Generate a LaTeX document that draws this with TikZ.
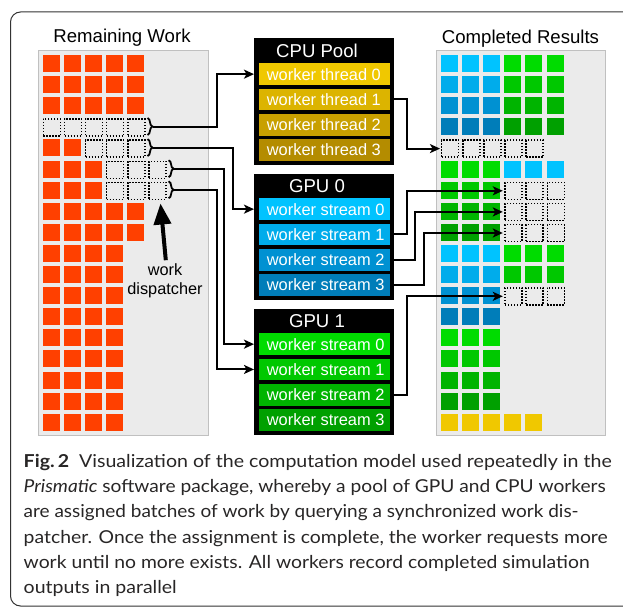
\documentclass[tikz,border=0pt]{standalone}
\usepackage{fontspec}
\usepackage{graphicx}
\setmainfont{Liberation Sans}
\newfontfamily\capfont{Lato}
\usetikzlibrary{arrows.meta,decorations.pathreplacing}
\definecolor{wred}{RGB}{255,64,0}
\definecolor{panelgray}{RGB}{235,235,235}
\definecolor{panelborder}{RGB}{192,192,192}
\definecolor{Y0}{RGB}{240,200,0}
\definecolor{Y1}{RGB}{220,180,0}
\definecolor{Y2}{RGB}{200,160,0}
\definecolor{Y3}{RGB}{180,140,0}
\definecolor{B0}{RGB}{0,195,255}
\definecolor{B1}{RGB}{0,172,235}
\definecolor{B2}{RGB}{0,145,210}
\definecolor{B3}{RGB}{0,125,185}
\definecolor{G0}{RGB}{0,220,0}
\definecolor{G1}{RGB}{0,200,0}
\definecolor{G2}{RGB}{0,180,0}
\definecolor{G3}{RGB}{0,160,0}
\definecolor{capcol}{RGB}{40,38,38}
\newcommand{\capfit}[2]{\resizebox{#1}{\height}{#2}}
\begin{document}
\begin{tikzpicture}[x=1pt,y=-1pt,
  panel/.style={fill=panelgray, draw=panelborder, line width=1pt},
  dotsq/.style={draw, dash pattern=on 1.4pt off 1.6pt, line width=1.4pt, minimum size=17pt, inner sep=0pt, anchor=north west},
  worker/.style={anchor=west, minimum width=131.7pt, minimum height=21.7pt, inner xsep=8.4pt, inner ysep=0pt, text=white, font=\fontsize{16.4}{18}\selectfont},
  poolbox/.style={fill=black, anchor=north west, minimum width=140pt, minimum height=126.7pt, inner sep=0pt},
  pooltitle/.style={text=white, inner sep=0pt, font=\fontsize{18.6}{20}\selectfont},
  paneltitle/.style={text=black, inner sep=0pt, font=\fontsize{18.6}{20}\selectfont},
  conn/.style={line width=2pt, -{Stealth[length=10pt,width=9pt,inset=2.5pt]}},
  brc/.style={decorate, decoration={brace, amplitude=5pt}, line width=1.8pt},
  capline/.style={anchor=base west, inner sep=0pt, text=capcol, font=\capfont\fontsize{17.8}{20}\selectfont},
]
\useasboundingbox (0,0) rectangle (623,607);
\clip (0,0) rectangle (623,607);
\fill[white] (0,0) rectangle (623,607);
% outer frame
\draw[line width=1pt, black!80, rounded corners=10pt] (10.5,12) rectangle (690,606);

% panels
\draw[panel] (38.3,50.5) rectangle (208.3,435);
\draw[panel] (436.7,50.5) rectangle (605.7,435);
\node[paneltitle] (ltitle) at (122,38) {Remaining Work};
\node[paneltitle] (rtitle) at (520.5,38.3) {Completed Results};

% left panel: remaining work
\foreach \r/\n in {0/4,1/4,2/4,4/1,5/2,6/2,7/4,8/4,9/3,10/3,11/3,12/3,13/3,14/3,15/3,16/3,17/3}
  \foreach \c in {0,...,\n}
    \fill[wred] ({42.7+21.1*\c},{55+21.1*\r}) rectangle ++(17,17);
\foreach \r/\a/\b in {3/0/4,4/2/4,5/3/5,6/3/5}
  \foreach \c in {\a,...,\b}
    \node[dotsq] (p\r\c) at ({42.7+21.1*\c},{55+21.1*\r}) {};

% braces
\draw[brc] (147.5,118) -- (147.5,135);
\draw[brc] (147.5,139.1) -- (147.5,156.1);
\draw[brc] (168.6,160.2) -- (168.6,177.2);
\draw[brc] (168.6,181.3) -- (168.6,198.3);
\coordinate (br3) at (152.8,126.5);
\coordinate (br4) at (152.8,147.6);
\coordinate (br5) at (173.9,168.7);
\coordinate (br6) at (173.9,189.8);

% dispatcher
\node[inner sep=1pt, align=center, font=\fontsize{16.3}{19}\selectfont] (disp) at (165,280.5) {work\\dispatcher};
\coordinate (disptip) at (160.5,203.5);
\draw[line width=4pt, -{Triangle[length=21pt,width=17pt]}] ([xshift=0.8pt,yshift=2pt]disp.north) -- (disptip);

% right panel: completed results
\foreach \r/\a/\b/\col in {0/0/2/B0,0/3/5/G0,1/0/2/B1,1/3/5/G1,2/0/2/B2,2/3/5/G2,3/0/2/B3,3/3/5/G3,
  5/0/2/G0,5/3/5/B0,6/0/2/G1,7/0/2/G2,8/0/2/G3,9/0/2/B0,9/3/5/G0,10/0/2/B1,10/3/5/G1,
  11/0/2/B2,12/0/2/B3,13/0/2/G0,14/0/2/G1,15/0/2/G2,16/0/2/G3,17/0/4/Y0}
  \foreach \c in {\a,...,\b}
    \fill[\col] ({441+21.1*\c},{55+21.1*\r}) rectangle ++(17,17);
\foreach \r/\a/\b in {4/0/4,6/3/5,7/3/5,8/3/5,11/3/5}
  \foreach \c in {\a,...,\b}
    \node[dotsq] (q\r\c) at ({441+21.1*\c},{55+21.1*\r}) {};

% CPU pool
\node[poolbox] (cpubox) at (254,38.3) {};
\node[pooltitle] (cputitle) at (317,50.8) {CPU Pool};
\foreach \i/\col in {0/Y0,1/Y1,2/Y2,3/Y3}
  \node[worker, fill=\col] (cpu\i) at (258.3,{74.15+25.3*\i}) {\makebox[114.9pt][l]{worker thread \i}};

% GPU 0
\node[poolbox] (gpuAbox) at (254,173.3) {};
\node[pooltitle] (gpuAtitle) at (317,185.8) {GPU 0};
\foreach \i/\col in {0/B0,1/B1,2/B2,3/B3}
  \node[worker, fill=\col] (gA\i) at (258.3,{209.15+25.3*\i}) {\makebox[114.9pt][l]{worker stream \i}};

% GPU 1
\node[poolbox] (gpuBbox) at (254,308.3) {};
\node[pooltitle] (gpuBtitle) at (317,320.8) {GPU 1};
\foreach \i/\col in {0/G0,1/G1,2/G2,3/G3}
  \node[worker, fill=\col] (gB\i) at (258.3,{344.15+25.3*\i}) {\makebox[114.9pt][l]{worker stream \i}};

% connectors: dispatcher to workers
\draw[conn] (br3) -- ++(63.9,0) |- (cpubox.west |- cpu0);
\draw[conn] (br4) -- ++(80.5,0) |- (gpuAbox.west |- gA0);
\draw[conn] (br5) -- ++(50.1,0) |- (gpuBbox.west |- gB0);
\draw[conn] (br6) -- ++(42.6,0) |- (gpuBbox.west |- gB1);

% connectors: workers to results
\draw[conn] (cpu1.east) -- ++(16.7,0) |- ([xshift=-1pt]q40.west);
\draw[conn] (gA1.east) -- ++(16.7,0) |- ([xshift=-1.5pt]q63.west);
\draw[conn] (gA2.east) -- ++(25,0) |- ([xshift=-1.5pt]q73.west);
\draw[conn] (gA3.east) -- ++(33.3,0) |- ([xshift=-1.5pt]q83.west);
\draw[conn] (gB2.east) -- ++(16.7,0) |- ([xshift=-1.5pt]q113.west);

% caption
\node[capline] (cap1) at (23.5,467.5) {\capfit{588pt}{\textbf{Fig.\,2}\hspace{0.5em}Visualization of the computation model used repeatedly in the}};
\node[capline] (cap2) at (23.5,492.7) {\capfit{582pt}{\textit{Prismatic} software package, whereby a pool of GPU and CPU workers}};
\node[capline] (cap3) at (23.5,517.9) {\capfit{555pt}{are assigned batches of work by querying a synchronized work dis-}};
\node[capline] (cap4) at (23.5,543.1) {\capfit{584pt}{patcher. Once the assignment is complete, the worker requests more}};
\node[capline] (cap5) at (23.5,568.3) {\capfit{566pt}{work until no more exists. All workers record completed simulation}};
\node[capline] (cap6) at (23.5,593.5) {\capfit{153pt}{outputs in parallel}};
\end{tikzpicture}
\end{document}
